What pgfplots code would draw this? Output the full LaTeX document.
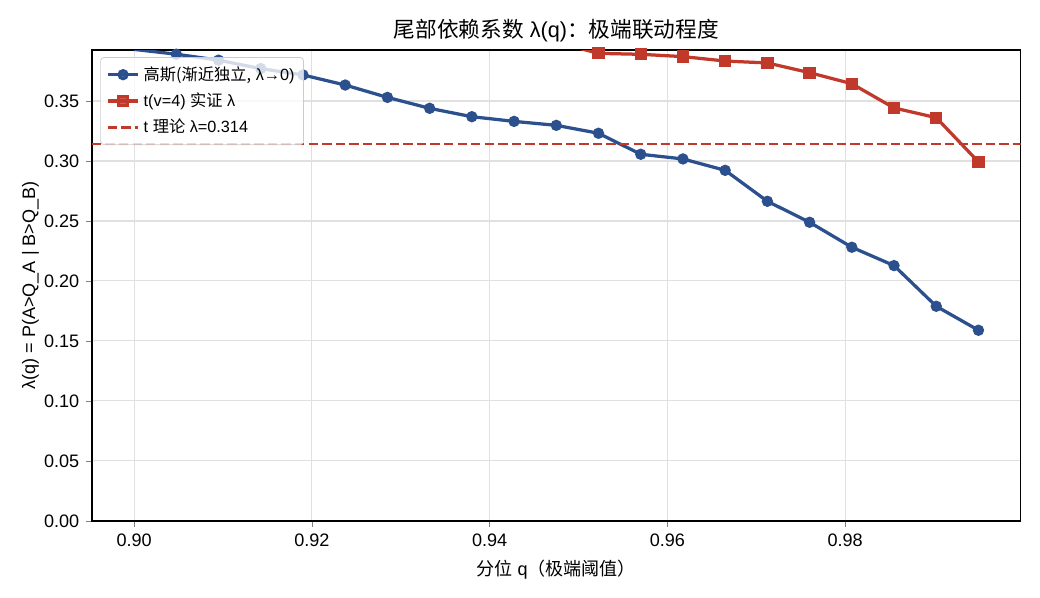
\documentclass[border=0pt]{standalone}
\usepackage{fontspec}
\setmainfont{Liberation Sans}
\newfontfamily\cjk{Noto Sans CJK SC}
\usepackage{pgfplots}
\pgfplotsset{compat=1.18}
\definecolor{gblue}{HTML}{2C4F8E}
\definecolor{tred}{HTML}{C0392B}
\begin{document}
\begin{tikzpicture}[x=1pt,y=1pt]
\path[use as bounding box] (-50.9,-42.6) rectangle (525.1,288.5);
\begin{axis}[
  at={(0,0)}, anchor=south west, scale only axis,
  width=514.4pt, height=260.8pt,
  xmin=0.89525, xmax=0.99975, ymin=0, ymax=0.3925,
  xtick={0.90,0.92,0.94,0.96,0.98},
  ytick={0,0.05,0.10,0.15,0.20,0.25,0.30,0.35},
  xticklabel style={/pgf/number format/.cd, fixed, fixed zerofill, precision=2},
  yticklabel style={/pgf/number format/.cd, fixed, fixed zerofill, precision=2},
  /pgf/number format/assume math mode=true,
  tick label style={font=\fontsize{10}{12}\selectfont},
  tick align=outside, tick pos=left, major tick length=3.5pt,
  grid=major, grid style={line width=0.6pt, draw=black!12},
  axis line style={line width=0.8pt},
  title={{\cjk 尾部依赖系数} λ(q){\cjk ：极端联动程度}},
  title style={font=\fontsize{12}{14}\selectfont, yshift=-5pt},
  xlabel={{\cjk 分位} q{\cjk （极端阈值）}},
  ylabel={λ(q) = P(A>Q\_A | B>Q\_B)},
  label style={font=\fontsize{10}{12}\selectfont},
  xlabel style={yshift=-0.5pt},
  ylabel style={yshift=-4pt},
  legend style={at={(0.009,0.985)}, anchor=north west, draw=black!20,
    rounded corners=2pt, fill=white, fill opacity=0.8, text opacity=1,
    font=\fontsize{9}{11}\selectfont, row sep=1.5pt, inner sep=3pt},
  legend cell align=left,
]
\addplot[gblue, line width=1.8pt, mark=*, mark size=2.2pt, mark options={solid}] coordinates {
(0.90000,0.3930) (0.90475,0.3890) (0.90950,0.3840) (0.91425,0.3770)
(0.91900,0.3717) (0.92375,0.3633) (0.92850,0.3530) (0.93325,0.3439)
(0.93800,0.3369) (0.94275,0.3330) (0.94750,0.3297) (0.95225,0.3231)
(0.95700,0.3056) (0.96175,0.3017) (0.96650,0.2922) (0.97125,0.2664)
(0.97600,0.2489) (0.98075,0.2281) (0.98550,0.2128) (0.99025,0.1789)
(0.99500,0.1589)
};
\addlegendentry{{\cjk 高斯(渐近独立,} λ→0)}
\addplot[tred, line width=1.8pt, mark=square*, mark size=2.5pt, mark options={solid}] coordinates {
(0.94750,0.3990) (0.95225,0.3897) (0.95700,0.3889) (0.96175,0.3870)
(0.96650,0.3833) (0.97125,0.3817) (0.97600,0.3736) (0.98075,0.3644)
(0.98550,0.3442) (0.99025,0.3361) (0.99500,0.2992)
};
\addlegendentry{t(v=4) {\cjk 实证} λ}
\addplot[tred, line width=1.4pt, dash pattern=on 5.2pt off 2.3pt, forget plot] coordinates {(0.89525,0.314) (0.99975,0.314)};
\addlegendimage{tred, line width=1.4pt, dash pattern=on 5.2pt off 2.3pt}
\addlegendentry{t {\cjk 理论} λ=0.314}
\end{axis}
\end{tikzpicture}
\end{document}
